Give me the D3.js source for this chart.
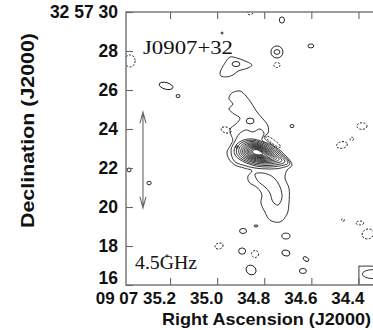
<!DOCTYPE html>
<html>
<head>
<meta charset="utf-8">
<script src="https://cdn.jsdelivr.net/npm/d3@7"></script>
<style>
	body { margin: 0; background: #fff; }
	svg { display: block; }
	.lab { font-family: 'Liberation Sans', Arial, sans-serif; font-weight: bold; fill: #111; }
	.serif { font-family: 'Liberation Serif', 'Times New Roman', serif; fill: #111; }
</style>
</head>
<body>
<svg id="chart"></svg>
<script>
const width = 373;
const height = 330;

// axis ticks: RA seconds after 09h07m, Dec arcsec after +32d57m
const raTicks = [35.2, 35.0, 34.8, 34.6, 34.4];
const raTickLabels = ['09 07 35.2', '35.0', '34.8', '34.6', '34.4'];
const decTicks = [30, 28, 26, 24, 22, 20, 18, 16];
const decTickLabels = ['32 57 30', '28', '26', '24', '22', '20', '18', '16'];

// lowest positive contour around the whole source [ra s, dec arcsec]
const contourLow = [
	[34.937, 25.85], [34.903, 25.95], [34.877, 25.69], [34.852, 25.28], [34.831, 24.87],
	[34.805, 24.51], [34.784, 24.15], [34.784, 23.79], [34.801, 23.59], [34.771, 23.23],
	[34.729, 22.87], [34.682, 22.15], [34.703, 21.90], [34.712, 21.49], [34.695, 20.97],
	[34.695, 20.21], [34.703, 19.64], [34.733, 19.23], [34.776, 19.33], [34.797, 19.74],
	[34.814, 20.21], [34.810, 20.62], [34.827, 20.97], [34.865, 21.28], [34.869, 21.59],
	[34.852, 21.85], [34.886, 22.00], [34.924, 22.15], [34.950, 22.46], [34.958, 22.82],
	[34.945, 23.13], [34.933, 23.44], [34.941, 23.69], [34.945, 24.00], [34.920, 24.26],
	[34.903, 24.56], [34.928, 24.77], [34.950, 25.03], [34.933, 25.28], [34.950, 25.54],
	[34.945, 25.74]
];

// second contour around the core
const contourSecond = [
	[34.941, 22.92], [34.924, 23.38], [34.907, 23.74], [34.877, 23.95], [34.848, 23.85],
	[34.818, 24.00], [34.801, 23.79], [34.810, 23.44], [34.771, 23.18], [34.733, 22.82],
	[34.691, 22.21], [34.729, 22.00], [34.784, 21.95], [34.839, 22.00], [34.890, 22.15],
	[34.928, 22.36]
];

// inner loop of the southern extension
const contourSouth = [
	[34.839, 21.69], [34.805, 21.74], [34.763, 21.54], [34.733, 21.03], [34.725, 20.46],
	[34.742, 20.10], [34.763, 20.26], [34.776, 20.72], [34.797, 21.03], [34.827, 21.33]
];

// core: outer outline, peak, and the relative size of each nested level
const coreOutline = [
	[34.928, 22.92], [34.916, 23.23], [34.886, 23.44], [34.852, 23.49], [34.814, 23.38],
	[34.776, 23.13], [34.737, 22.77], [34.699, 22.26], [34.737, 22.10], [34.784, 22.05],
	[34.835, 22.10], [34.877, 22.26], [34.907, 22.46], [34.924, 22.67]
];
const corePeak = [34.831, 22.82];
const coreLevels = [1, 0.9, 0.8, 0.71, 0.63, 0.56, 0.49, 0.43, 0.37, 0.31, 0.25, 0.19];

// patch north of the source
const contourNorth = [
	[34.988, 26.87], [34.967, 27.38], [34.945, 27.69], [34.916, 27.64], [34.882, 27.49],
	[34.852, 27.28], [34.869, 27.13], [34.911, 26.97], [34.933, 26.77], [34.962, 26.67],
	[34.984, 26.72]
];

// small islands: centre, semi-axes (arcsec), tilt, negative?
const islands = [
	{ ra: 34.725, dec: 29.59, a: 0.13, b: 0.16, ang: 0, neg: false },
	{ ra: 34.746, dec: 27.95, a: 0.31, b: 0.31, ang: 0, neg: false },
	{ ra: 34.746, dec: 27.95, a: 0.15, b: 0.12, ang: 0, neg: false },
	{ ra: 34.746, dec: 27.28, a: 0.16, b: 0.13, ang: 0, neg: true },
	{ ra: 34.602, dec: 28.26, a: 0.15, b: 0.1, ang: 0, neg: false },
	{ ra: 34.92, dec: 27.33, a: 0.2, b: 0.13, ang: 0, neg: false },
	{ ra: 35.37, dec: 27.49, a: 0.26, b: 0.31, ang: 0, neg: true },
	{ ra: 35.217, dec: 26.21, a: 0.36, b: 0.17, ang: 15, neg: false },
	{ ra: 35.166, dec: 25.69, a: 0.1, b: 0.08, ang: 0, neg: false },
	{ ra: 35.374, dec: 21.9, a: 0.1, b: 0.1, ang: 0, neg: false },
	{ ra: 35.289, dec: 21.23, a: 0.11, b: 0.09, ang: 0, neg: false },
	{ ra: 34.962, dec: 23.95, a: 0.26, b: 0.15, ang: 15, neg: true },
	{ ra: 34.682, dec: 24.15, a: 0.1, b: 0.08, ang: 0, neg: false },
	{ ra: 34.385, dec: 24.15, a: 0.26, b: 0.17, ang: 0, neg: true },
	{ ra: 34.47, dec: 23.18, a: 0.28, b: 0.17, ang: -10, neg: true },
	{ ra: 34.428, dec: 23.49, a: 0.1, b: 0.08, ang: 0, neg: true },
	{ ra: 34.466, dec: 19.33, a: 0.08, b: 0.06, ang: 0, neg: true },
	{ ra: 34.394, dec: 19.18, a: 0.2, b: 0.1, ang: 0, neg: true },
	{ ra: 34.36, dec: 18.62, a: 0.3, b: 0.25, ang: -20, neg: true },
	{ ra: 34.89, dec: 18.77, a: 0.18, b: 0.13, ang: 0, neg: false },
	{ ra: 34.835, dec: 19.03, a: 0.1, b: 0.05, ang: 0, neg: false },
	{ ra: 34.708, dec: 18.51, a: 0.21, b: 0.15, ang: 0, neg: false },
	{ ra: 34.992, dec: 18.0, a: 0.21, b: 0.15, ang: -15, neg: true },
	{ ra: 34.894, dec: 17.74, a: 0.18, b: 0.16, ang: 0, neg: false },
	{ ra: 34.839, dec: 17.59, a: 0.18, b: 0.18, ang: 0, neg: true },
	{ ra: 34.708, dec: 17.64, a: 0.21, b: 0.15, ang: 15, neg: false },
	{ ra: 34.623, dec: 17.33, a: 0.16, b: 0.1, ang: 35, neg: false },
	{ ra: 34.636, dec: 16.72, a: 0.18, b: 0.13, ang: 0, neg: false },
	{ ra: 34.856, dec: 16.77, a: 0.27, b: 0.23, ang: 40, neg: false },
	{ ra: 35.213, dec: 17.49, a: 0.06, b: 0.05, ang: 0, neg: false },
	{ ra: 34.979, dec: 28.92, a: 0.05, b: 0.05, ang: 0, neg: false },
	{ ra: 34.86, dec: 29.95, a: 0.13, b: 0.1, ang: 0, neg: true },
	{ ra: 34.916, dec: 23.08, a: 0.07, b: 0.06, ang: 0, neg: false },
	{ ra: 34.86, dec: 24.41, a: 0.2, b: 0.15, ang: 0, neg: false },
	{ ra: 34.762, dec: 23.35, a: 0.47, b: 0.1, ang: 37, neg: true }
];

// restoring beam (bottom right) and the scale arrow
const beam = { ra: 34.338, dec: 16.56, a: 0.55, b: 0.23, boxRa: 34.398, boxDec: 16.97 };
const arrowRa = 35.315;
const arrowDec = [24.87, 19.95];

const svg = d3.select('#chart').attr('width', width).attr('height', height);

const x = d3.scaleLinear().domain([35.387, 34.3]).range([126, 382]);
const y = d3.scaleLinear().domain([16, 30]).range([285, 12]);
const arc = y(0) - y(1); // pixels per arcsec

svg
	.append('defs')
	.append('clipPath')
	.attr('id', 'plot')
	.append('rect')
	.attr('x', x.range()[0])
	.attr('y', y.range()[1])
	.attr('width', x.range()[1] - x.range()[0])
	.attr('height', y.range()[0] - y.range()[1]);

const g = svg.append('g').attr('clip-path', 'url(#plot)');

const line = d3
	.line()
	.x((d) => x(d[0]))
	.y((d) => y(d[1]))
	.curve(d3.curveCatmullRomClosed.alpha(0.5));

// nested core levels scaled toward the peak
const coreRings = coreLevels.map((s) =>
	coreOutline.map((p) => [corePeak[0] + s * (p[0] - corePeak[0]), corePeak[1] + s * (p[1] - corePeak[1])])
);

g.selectAll('path.cont')
	.data([contourLow, contourSecond, contourSouth, contourNorth, ...coreRings])
	.enter()
	.append('path')
	.attr('class', 'cont')
	.attr('d', line)
	.attr('fill', 'none')
	.attr('stroke', '#111')
	.attr('stroke-width', 0.85);

g.selectAll('ellipse.isl')
	.data(islands)
	.enter()
	.append('ellipse')
	.attr('class', 'isl')
	.attr('transform', (d) => `translate(${x(d.ra)},${y(d.dec)}) rotate(${d.ang})`)
	.attr('rx', (d) => d.a * arc)
	.attr('ry', (d) => d.b * arc)
	.attr('fill', 'none')
	.attr('stroke', '#111')
	.attr('stroke-width', 0.9)
	.attr('stroke-dasharray', (d) => (d.neg ? '2,1.5' : null));

// beam box
g.append('rect')
	.attr('x', x(beam.boxRa))
	.attr('y', y(beam.boxDec))
	.attr('width', x.range()[1] - x(beam.boxRa))
	.attr('height', y.range()[0] - y(beam.boxDec))
	.attr('fill', 'none')
	.attr('stroke', '#222')
	.attr('stroke-width', 0.9);
g.append('ellipse')
	.attr('cx', x(beam.ra))
	.attr('cy', y(beam.dec))
	.attr('rx', beam.a * arc)
	.attr('ry', beam.b * arc)
	.attr('fill', 'none')
	.attr('stroke', '#222')
	.attr('stroke-width', 0.9);

// scale arrow
const ax = x(arrowRa);
const ay0 = y(arrowDec[0]);
const ay1 = y(arrowDec[1]);
svg.append('path')
	.attr('d', `M${ax},${ay0}V${ay1}M${ax - 3},${ay0 + 11}L${ax},${ay0}L${ax + 3},${ay0 + 11}M${ax - 3},${ay1 - 11}L${ax},${ay1}L${ax + 3},${ay1 - 11}`)
	.attr('fill', 'none')
	.attr('stroke', '#666')
	.attr('stroke-width', 1.1);

// frame and inward ticks
svg.append('rect')
	.attr('x', x.range()[0])
	.attr('y', y.range()[1])
	.attr('width', x.range()[1] - x.range()[0])
	.attr('height', y.range()[0] - y.range()[1])
	.attr('fill', 'none')
	.attr('stroke', '#666')
	.attr('stroke-width', 1.3);

const tickStyle = (sel) => {
	sel.select('.domain').remove();
	sel.selectAll('line').attr('stroke', '#666').attr('stroke-width', 1.1);
};
svg.append('g')
	.attr('transform', `translate(0,${y.range()[0]})`)
	.call(d3.axisBottom(x).tickValues(raTicks).tickSize(-7).tickFormat(''))
	.call(tickStyle);
svg.append('g')
	.attr('transform', `translate(0,${y.range()[1]})`)
	.call(d3.axisTop(x).tickValues(raTicks).tickSize(-7).tickFormat(''))
	.call(tickStyle);
svg.append('g')
	.attr('transform', `translate(${x.range()[0]},0)`)
	.call(d3.axisLeft(y).tickValues(decTicks).tickSize(-7).tickFormat(''))
	.call(tickStyle);

// tick labels
svg.selectAll('text.xt')
	.data(raTicks)
	.enter()
	.append('text')
	.attr('class', 'lab xt')
	.attr('x', (d) => x(d) + 6)
	.attr('y', 304)
	.attr('text-anchor', 'end')
	.attr('font-size', 17)
	.text((d, i) => raTickLabels[i]);

svg.selectAll('text.yt')
	.data(decTicks)
	.enter()
	.append('text')
	.attr('class', 'lab yt')
	.attr('x', 118)
	.attr('y', (d, i) => y(d) - (i === decTicks.length - 1 ? 7 : 0))
	.attr('dy', '0.36em')
	.attr('text-anchor', 'end')
	.attr('font-size', 17.5)
	.text((d, i) => decTickLabels[i]);

// axis titles
svg.append('text')
	.attr('class', 'lab')
	.attr('x', 162)
	.attr('y', 325)
	.attr('font-size', 17)
	.attr('textLength', 209)
	.attr('lengthAdjust', 'spacingAndGlyphs')
	.text('Right Ascension (J2000)');

svg.append('text')
	.attr('class', 'lab')
	.attr('transform', 'translate(34,228) rotate(-90)')
	.attr('font-size', 17.5)
	.attr('textLength', 195)
	.attr('lengthAdjust', 'spacingAndGlyphs')
	.text('Declination (J2000)');

// annotations
svg.append('text')
	.attr('class', 'serif')
	.attr('x', 143)
	.attr('y', 54)
	.attr('font-size', 19)
	.attr('textLength', 90)
	.attr('lengthAdjust', 'spacingAndGlyphs')
	.text('J0907+32');

svg.append('text')
	.attr('class', 'serif')
	.attr('x', 135)
	.attr('y', 269)
	.attr('font-size', 19)
	.attr('textLength', 62)
	.attr('lengthAdjust', 'spacingAndGlyphs')
	.text('4.5GHz');
</script>
</body>
</html>
